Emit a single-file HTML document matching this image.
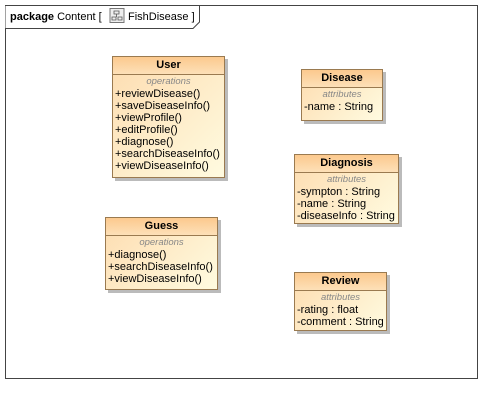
<!DOCTYPE html>
<html><head><style>
body{margin:0;width:501px;height:403px;background:#fff;position:relative;font-family:"Liberation Sans",Arial,sans-serif;overflow:hidden}
.frame{position:absolute;left:5px;top:5px;width:471px;height:372px;border:1px solid #444}
.c{position:absolute;border:1px solid #9a7a50;background:linear-gradient(135deg,#fddcb0,#fffbe0);box-shadow:3px 3px 0 #bbb;font-size:11px;color:#000}
.h{font-weight:bold;text-align:center;font-size:11px;border-bottom:1px solid #9a7a50;background:linear-gradient(180deg,#fcc98e,#fde0b8);height:17px;line-height:17px}
.s{text-align:center;font-style:italic;color:#888;font-size:9.5px;line-height:12px;margin-top:1px}
.r{padding-left:2px;line-height:12px;white-space:nowrap}
</style></head><body>
<div class="frame"></div>
<svg width="200" height="25" style="position:absolute;left:5px;top:5px">
<path d="M0.5 0.5 H194.5 V17 L188 23.5 H0.5" fill="#fff" stroke="#444"/>
<text x="5" y="15" font-family="Liberation Sans" font-size="11"><tspan font-weight="bold">package</tspan>  Content [</text>
<rect x="105" y="3.5" width="14" height="14" fill="#eee" stroke="#777"/>
<path d="M109 6h5v3h-5zM107 12h4v3h-4zM113 12h4v3h-4zM111.5 9v3" fill="none" stroke="#555" stroke-width="0.8"/>
<text x="123" y="15" font-family="Liberation Sans" font-size="11">FishDisease ]</text>
</svg>
<div class="c" style="left:112px;top:56px;width:111px;height:120px"><div class="h">User</div><div class="s">operations</div>
<div class="r">+reviewDisease()</div><div class="r">+saveDiseaseInfo()</div><div class="r">+viewProfile()</div><div class="r">+editProfile()</div><div class="r">+diagnose()</div><div class="r">+searchDiseaseInfo()</div><div class="r">+viewDiseaseInfo()</div></div>
<div class="c" style="left:105px;top:217px;width:111px;height:71px"><div class="h">Guess</div><div class="s">operations</div>
<div class="r">+diagnose()</div><div class="r">+searchDiseaseInfo()</div><div class="r">+viewDiseaseInfo()</div></div>
<div class="c" style="left:301px;top:69px;width:80px;height:50px"><div class="h">Disease</div><div class="s">attributes</div>
<div class="r">-name : String</div></div>
<div class="c" style="left:294px;top:154px;width:103px;height:68px"><div class="h">Diagnosis</div><div class="s">attributes</div>
<div class="r">-sympton : String</div><div class="r">-name : String</div><div class="r">-diseaseInfo : String</div></div>
<div class="c" style="left:294px;top:272px;width:91px;height:57px"><div class="h">Review</div><div class="s">attributes</div>
<div class="r">-rating : float</div><div class="r">-comment : String</div></div>
</body></html>
